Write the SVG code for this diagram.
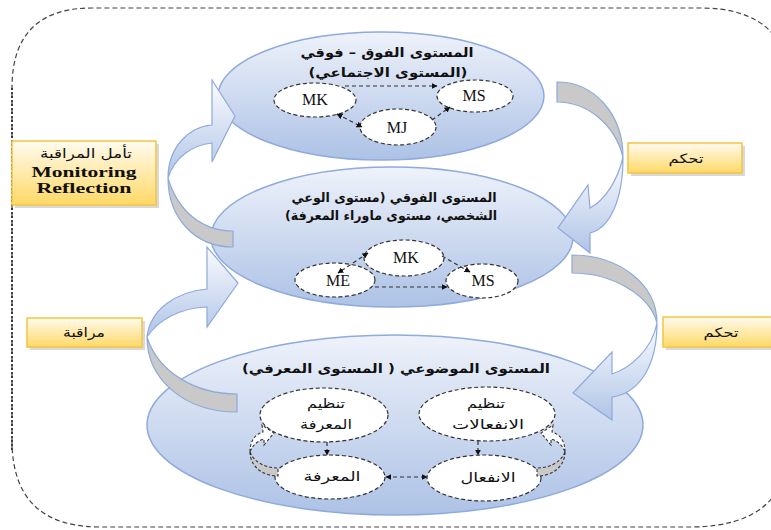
<svg xmlns="http://www.w3.org/2000/svg" width="771" height="530" viewBox="0 0 771 530">
<defs>
<linearGradient id="gEll" x1="0" y1="0" x2="0" y2="1">
<stop offset="0" stop-color="#eef2fa"/>
<stop offset="1" stop-color="#adc2e6"/>
</linearGradient>
<linearGradient id="gFront" x1="0" y1="0" x2="0" y2="1">
<stop offset="0" stop-color="#fbfcfe"/>
<stop offset="1" stop-color="#b0c4e7"/>
</linearGradient>
<linearGradient id="gBox" x1="0" y1="0" x2="0" y2="1">
<stop offset="0" stop-color="#fffbef"/>
<stop offset="1" stop-color="#ffd966"/>
</linearGradient>
<marker id="ah" viewBox="0 0 10 10" refX="9" refY="5" markerWidth="6" markerHeight="6" orient="auto-start-reverse" markerUnits="userSpaceOnUse">
<path d="M0,0 L10,5 L0,10 Z" fill="#111"/>
</marker>
</defs>
<style>
.ell{fill:url(#gEll);stroke:#8faadc;stroke-width:1.5}
.node{fill:#fff;stroke:#333;stroke-width:1.2;stroke-dasharray:4 2.5}
.con{fill:none;stroke:#333;stroke-width:1.2;stroke-dasharray:4 3}
.back{fill:#c9c9c9;stroke:#8eaadb;stroke-width:1.2}
.front{fill:url(#gFront);stroke:#8eaadb;stroke-width:1.2}
.sback{fill:#c9c9c9;stroke:#333;stroke-width:1.1;stroke-dasharray:3 2}
.sfront{fill:#fff;stroke:#333;stroke-width:1.1;stroke-dasharray:3 2}
.box{fill:url(#gBox);stroke:#f4c542;stroke-width:1.5}
.shadow{fill:#bfbfbf;opacity:0.6}
.ar{font-family:"DejaVu Sans","Noto Sans",sans-serif;font-size:13px;fill:#111;text-anchor:middle}
.arb{font-family:"DejaVu Sans","Noto Sans",sans-serif;font-size:13px;font-weight:bold;fill:#111;text-anchor:middle}
.lat{font-family:"Liberation Serif","Times New Roman",serif;font-size:16px;fill:#111;text-anchor:middle}
.latb{font-family:"Liberation Serif","Times New Roman",serif;font-size:14px;font-weight:bold;fill:#111;text-anchor:middle}
</style>
<rect width="771" height="530" fill="#fff"/>

<!-- outer frame -->
<g id="frame">
<path d="M12,450 L12,88 Q12,8 92,8 L700,8 Q790,8 790,90" fill="none" stroke="#444" stroke-width="1.2" stroke-dasharray="5 3"/>
<path d="M12,88 L12,450" fill="none" stroke="#222" stroke-width="1.6" stroke-dasharray="2 2"/>
<path d="M12,440 Q12,527 100,527 L690,527 Q790,527 790,440" fill="none" stroke="#444" stroke-width="1.2" stroke-dasharray="5 3"/>
</g>

<!-- level ellipses -->
<g id="level-top">
<ellipse class="ell" cx="381" cy="96" rx="163" ry="64"/>
<text class="arb" x="387" y="57" direction="rtl" textLength="173" lengthAdjust="spacingAndGlyphs">المستوى الفوق – فوقي</text>
<text class="arb" x="388" y="77" direction="rtl" textLength="159" lengthAdjust="spacingAndGlyphs">(المستوى الاجتماعي)</text>
</g>
<g id="level-middle">
<ellipse class="ell" cx="392" cy="237" rx="181" ry="70"/>
<text class="arb" x="394" y="202" direction="rtl" textLength="205" lengthAdjust="spacingAndGlyphs">المستوى الفوقي (مستوى الوعي</text>
<text class="arb" x="391" y="220" direction="rtl" textLength="212" lengthAdjust="spacingAndGlyphs">الشخصي، مستوى ماوراء المعرفة)</text>
</g>
<g id="level-bottom">
<ellipse class="ell" cx="395" cy="425" rx="248" ry="90"/>
<text class="arb" x="396" y="373" direction="rtl" textLength="308" lengthAdjust="spacingAndGlyphs">المستوى الموضوعي ( المستوى المعرفي)</text>
</g>

<!-- nodes -->
<g id="top-MK"><ellipse class="node" cx="315" cy="100" rx="41" ry="17"/><text class="lat" x="315" y="105">MK</text></g>
<g id="top-MS"><ellipse class="node" cx="475" cy="96" rx="38" ry="16"/><text class="lat" x="474" y="101">MS</text></g>
<g id="top-MJ"><ellipse class="node" cx="398" cy="127" rx="38" ry="18"/><text class="lat" x="397" y="133">MJ</text></g>

<g id="mid-MK"><ellipse class="node" cx="404" cy="258" rx="40" ry="18"/><text class="lat" x="406" y="263">MK</text></g>
<g id="mid-ME"><ellipse class="node" cx="335" cy="280" rx="40" ry="17"/><text class="lat" x="338" y="286">ME</text></g>
<g id="mid-MS"><ellipse class="node" cx="482" cy="281" rx="36" ry="17"/><text class="lat" x="483" y="286">MS</text></g>

<g id="reg-knowledge"><ellipse class="node" cx="324" cy="415" rx="64" ry="27"/>
<text class="ar" x="326" y="408" direction="rtl" textLength="38" lengthAdjust="spacingAndGlyphs">تنظيم</text>
<text class="ar" x="326" y="429" direction="rtl" textLength="52" lengthAdjust="spacingAndGlyphs">المعرفة</text></g>
<g id="reg-emotions"><ellipse class="node" cx="487" cy="414" rx="68" ry="27"/>
<text class="ar" x="486" y="408" direction="rtl" textLength="38" lengthAdjust="spacingAndGlyphs">تنظيم</text>
<text class="ar" x="488" y="429" direction="rtl" textLength="72" lengthAdjust="spacingAndGlyphs">الانفعالات</text></g>
<g id="knowledge"><ellipse class="node" cx="330" cy="477" rx="55" ry="22"/>
<text class="ar" x="332" y="481" direction="rtl" textLength="57" lengthAdjust="spacingAndGlyphs">المعرفة</text></g>
<g id="emotion"><ellipse class="node" cx="484" cy="478" rx="57" ry="23"/>
<text class="ar" x="488" y="482" direction="rtl" textLength="55" lengthAdjust="spacingAndGlyphs">الانفعال</text></g>

<!-- connectors -->
<g id="connectors">
<line class="con" x1="345" y1="86" x2="437" y2="86" marker-end="url(#ah)"/>
<line class="con" x1="337" y1="114" x2="362" y2="127" marker-start="url(#ah)" marker-end="url(#ah)"/>
<line class="con" x1="432" y1="120" x2="450" y2="107" marker-end="url(#ah)"/>

<line class="con" x1="368" y1="253" x2="338" y2="273" marker-start="url(#ah)" marker-end="url(#ah)"/>
<line class="con" x1="442" y1="256" x2="470" y2="272" marker-end="url(#ah)"/>
<line class="con" x1="375" y1="287" x2="447" y2="287" marker-end="url(#ah)"/>

<line class="con" x1="327" y1="442" x2="327" y2="455" marker-end="url(#ah)"/>
<line class="con" x1="478" y1="441" x2="478" y2="455" marker-end="url(#ah)"/>
<line class="con" x1="386" y1="477" x2="427" y2="477" marker-start="url(#ah)" marker-end="url(#ah)"/>

<!-- small loop arrows -->
<path class="sback" d="M250,452 C250,466 262,476 278,476 L278,468 C265,468 254,462 250,452 Z"/>
<path class="sfront" d="M250,452 C250,441 255,434 263,432 L262,425 L274,433 L264,445 L264,439 C257,441 252,446 250,452 Z"/>
<path class="sback" d="M565,452 C565,466 553,476 537,476 L537,468 C550,468 561,462 565,452 Z"/>
<path class="sfront" d="M565,452 C565,441 560,434 552,432 L553,425 L541,433 L551,445 L551,439 C558,441 563,446 565,452 Z"/>

<!-- big curved arrows -->
<g id="arrow-monitoring-reflection">
<path class="back" d="M168,178 C168,218 195,247 233,247 L233,231 C203,231 178,212 168,178 Z"/>
<path class="front" d="M168,178 C168,148 188,127 212,125 L212,80 L235,116 L212,162 L212,143 C192,145 174,158 168,178 Z"/>
</g>
<g id="arrow-monitoring">
<path class="back" d="M147,337 C147,380 185,412 237,412 L237,394 C195,394 158,372 147,337 Z"/>
<path class="front" d="M147,337 C150,310 175,292 207,289 L207,247 L238,283 L207,327 L207,307 C180,308 158,320 147,337 Z"/>
</g>
<g id="arrow-control-1">
<path class="back" d="M623,157 C623,115 595,82 557,82 L557,102 C588,102 615,125 623,157 Z"/>
<path class="front" d="M623,157 C623,200 610,228 590,233 L590,253 L558,228 L588,185 L590,208 C605,200 618,180 623,157 Z"/>
</g>
<g id="arrow-control-2">
<path class="back" d="M657,323 C657,285 620,255 572,255 L572,273 C612,273 650,295 657,323 Z"/>
<path class="front" d="M657,323 C657,365 640,393 612,397 L612,420 L573,393 L612,352 L612,374 C630,368 652,350 657,323 Z"/>
</g>
</g>

<!-- label boxes -->
<g id="label-reflection">
<rect class="shadow" x="15" y="144" width="144" height="64"/>
<rect class="box" x="12" y="141" width="144" height="64"/>
<text class="ar" x="86" y="158" direction="rtl" textLength="92" lengthAdjust="spacingAndGlyphs">تأمل المراقبة</text>
<text class="latb" x="84" y="177" textLength="105" lengthAdjust="spacingAndGlyphs">Monitoring</text>
<text class="latb" x="84" y="193" textLength="95" lengthAdjust="spacingAndGlyphs">Reflection</text>
</g>
<g id="label-monitoring">
<rect class="shadow" x="30" y="321" width="115" height="29"/>
<rect class="box" x="27" y="318" width="115" height="29"/>
<text class="ar" x="84" y="337" direction="rtl" textLength="42" lengthAdjust="spacingAndGlyphs">مراقبة</text>
</g>
<g id="label-control-1">
<rect class="shadow" x="631" y="146" width="114" height="30"/>
<rect class="box" x="628" y="143" width="114" height="30"/>
<text class="ar" x="686" y="163" direction="rtl" textLength="35" lengthAdjust="spacingAndGlyphs">تحكم</text>
</g>
<g id="label-control-2">
<rect class="shadow" x="666" y="320" width="112" height="30"/>
<rect class="box" x="663" y="317" width="112" height="30"/>
<text class="ar" x="721" y="337" direction="rtl" textLength="35" lengthAdjust="spacingAndGlyphs">تحكم</text>
</g>
</svg>
